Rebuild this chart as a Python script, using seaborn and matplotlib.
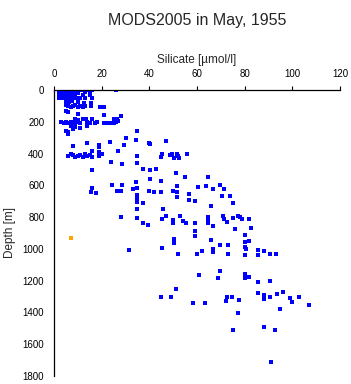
# MODS2005 silicate profile, May 1955 - depth vs silicate scatter

import pandas as pd
import matplotlib
matplotlib.use("Agg")
import matplotlib.pyplot as plt
import seaborn as sns

# (silicate umol/l, depth m)
surface = [(2,0),(3,0),(4,0),(5,0),(6,0),(7,0),(8,0),(9,0),(10,0),(11,0),(12.5,0),(13.5,0),(15,0),(16,0),(26,0),
           (2,10),(3,10),(4,10),(5,10),(6,10),(7,10),(8,10),(9,10),(10,10),(13,10),(15,10),
           (2,20),(3,20),(4,20),(5,20),(6,20),(7,20),(8,20),(10,20),
           (2,30),(3,30),(4,30),(5,30),(6,30),(7,30),(9,30),(12,30),(15,30),
           (2,50),(3,50),(4,50),(5,50),(6,50),(7,50),(8,50),(9,50),(10,50),(11,50),(13,50),(16,50)]

upper = [(5,70),(6.5,75),(7.5,70),(10,75),(12.6,80),(15.6,80),
         (5,95),(6,100),(7,105),(8,100),(9,95),(10,110),(11,100),(12,105),(13,100),(15.5,100),(19.5,110),(21,105),
         (5,130),(6,140),(10,150),(21,155),
         (9,185),(10,190),(12,180),(13.5,185),(16,180),(25,180),(26.5,185),(28,165),
         (3,200),(4,205),(5,200),(6,210),(7,200),(8,205),(9,210),(10,200),(11,205),(14,200),(15,210),
         (17,205),(18,200),(21,210),(22,205),(23.5,210),(25,205),(26,200),(27,195),
         (7,225),(8,235),(9,230),(11,240),(14,225),
         (5,260),(6,265),(8,245),(35,255),(6,280)]

intermediate = [(30,300),(34.5,315),(39.8,333),(14,333),(19,345),(19,360),(23.5,325),(29.5,345),(8,352),(40.3,340),(47,320),
                (16,385),(19,390),(27,385),
                (6,415),(7,405),(8,410),(9,420),(10,415),(11,410),(12,420),(13,405),(14,415),(15,410),(16,420),
                (19,415),(20,405),(35,415),
                (45.5,400),(45,420),(48.5,410),(49.5,400),(50.5,425),(51.5,405),(52,415),(52.5,430),(56,405),
                (24,450),(28.5,466),(35,460),
                (16,503),(37.5,497),(40.2,505),(43,497),
                (51,525),(55,545),(64.5,545),(40.2,560),(45,570),(34.5,580),
                (16,615),(15.5,640),(17.5,650),(24.5,600),(28.5,600),(26.5,635),(28.3,635),(33,620),(35,615),(40,635),
                (41.8,640),(44.9,645),(50,635),(51.6,605),(51.6,645),(51.6,675),(56.8,655),(56.8,690),(59,700),
                (60.5,610),(63.8,605),(66.8,620),(69.5,600),(71.5,625),(70.5,665),(74,670),
                (35,660),(35,685),(35,705),(37.4,711)]

deep = [(75,710),(66,730),(35,750),(45.7,750),
        (47,790),(45.5,810),(53,795),(50,820),(50,840),(54,825),(55.5,840),(59,835),
        (64.8,800),(64.8,820),(64.8,840),(66.8,855),(71,795),(71.5,815),(72.5,830),(75,805),
        (77.3,790),(78.2,800),(79,815),(81.8,810),(82.8,870),(75.8,875),
        (28.3,800),(35,805),(37.5,840),(39.5,850),
        (59,890),(59,920),(50.4,935),(50.4,965),(66,945),(80,915),(82,950),(80,955),
        (69.7,975),(72.8,975),(80,985),(80.5,1000),(66.8,1000),(66.8,1020),(45.5,995),(31.3,1007),
        (52,1035),(60,1035),(61.9,1015),(72.8,1035),(80,1040),(85.8,1005),(85.8,1040),(88,1015),(90.5,1035),(93,1035)]

abyssal = [(61,1165),(69.7,1140),(69,1185),(80,1155),(80,1185),(82,1175),(85.8,1210),(90.8,1205),
           (51,1250),(45,1305),(49,1300),(58.2,1340),(63.2,1340),(72.5,1305),(74.8,1305),(72,1325),(77.6,1320),
           (85.8,1280),(88,1290),(88,1315),(90.8,1300),(93.6,1285),(96,1270),(99,1310),(99.7,1335),(102.8,1305),(106.8,1355),
           (77,1405),(95,1380),(75,1510),(88,1490),(92.8,1510),(91,1715)]

flagged = [(7.3,932)]

x_ticks = [0, 20, 40, 60, 80, 100, 120]
y_ticks = [0, 200, 400, 600, 800, 1000, 1200, 1400, 1600, 1800]

good = pd.DataFrame(surface + upper + intermediate + deep + abyssal, columns=["silicate", "depth"])
bad = pd.DataFrame(flagged, columns=["silicate", "depth"])

sns.set_style("white")
plt.rcParams['font.family'] = ['Liberation Sans', 'DejaVu Sans']

fig = plt.figure(figsize=(3.51, 3.84), dpi=100)
ax = fig.add_axes([54/351, 1 - 376/384, 286/351, 286/384])

sns.scatterplot(data=good, x="silicate", y="depth", ax=ax, marker="s", s=6,
                color=(0, 0, 1), linewidth=0, legend=False)
sns.scatterplot(data=bad, x="silicate", y="depth", ax=ax, marker="s", s=6,
                color="orange", linewidth=0, legend=False)

ax.set_xlim(0, 120)
ax.set_ylim(1800, 0)
ax.set_xticks(x_ticks)
ax.set_yticks(y_ticks)
ax.xaxis.tick_top()
ax.xaxis.set_label_position("top")
ax.tick_params(direction="out", length=3, width=0.8, labelsize=7, pad=4, colors="black")
ax.tick_params(axis="x", pad=5)

for side in ["right", "bottom"]:
    ax.spines[side].set_visible(False)
for side in ["top", "left"]:
    ax.spines[side].set_color("black")
    ax.spines[side].set_linewidth(0.9)

ax.set_xlabel("Silicate [µmol/l]", fontsize=8.5, va="center")
ax.xaxis.set_label_coords(0.5, 1 + 30 / 286)
ax.set_ylabel("Depth [m]", fontsize=8.5, labelpad=5)
fig.text((54 + 340) / 2 / 351, 1 - 20 / 384, "MODS2005 in May, 1955",
         ha="center", va="center", fontsize=11.5)

plt.savefig("out.png", dpi=100)
